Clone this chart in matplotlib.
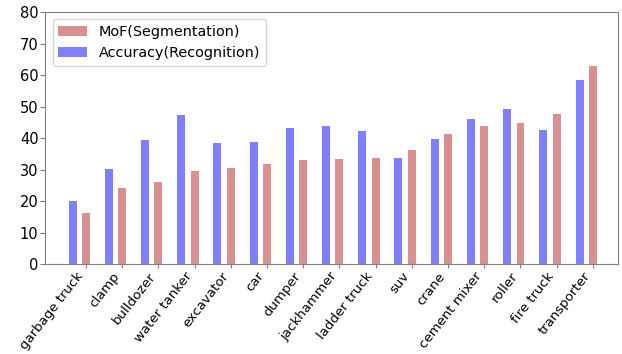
import numpy as np
import matplotlib
matplotlib.use('Agg')
import matplotlib.pyplot as plt

categories = ['garbage truck', 'clamp', 'bulldozer', 'water tanker', 'excavator',
              'car', 'dumper', 'jackhammer', 'ladder truck', 'suv', 'crane',
              'cement mixer', 'roller', 'fire truck', 'transporter']
accuracy = [19.9, 30.2, 39.3, 47.4, 38.3, 38.8, 43.3, 43.9, 42.3, 33.6, 39.6,
            46.1, 49.2, 42.6, 58.4]
mof = [16.3, 24.0, 26.0, 29.4, 30.4, 31.7, 32.9, 33.5, 33.8, 36.1, 41.3,
       43.7, 44.9, 47.7, 62.9]

x = np.arange(len(categories))
width = 0.22

fig, ax = plt.subplots(figsize=(6.22, 3.54), dpi=100)
ax.bar(x, mof, width, color='firebrick', alpha=0.5, label='MoF(Segmentation)')
ax.bar(x - 0.37, accuracy, width, color='blue', alpha=0.5, label='Accuracy(Recognition)')

ax.set_xlim(-1.12, 14.7)
ax.set_ylim(0, 80)
ax.set_yticks(np.arange(0, 81, 10))
ax.set_xticks(x)
ax.set_xticklabels(categories, rotation=52, ha='right', fontsize=9.5)
ax.tick_params(axis='y', labelsize=10.5, pad=1.5, color='gray')
ax.tick_params(axis='x', length=3, color='gray', pad=1)
for s in ax.spines.values():
    s.set_color('gray')

ax.legend(loc='upper left', fontsize=10.4)
fig.subplots_adjust(left=0.073, right=0.994, top=0.966, bottom=0.254)
fig.savefig('out.png')
